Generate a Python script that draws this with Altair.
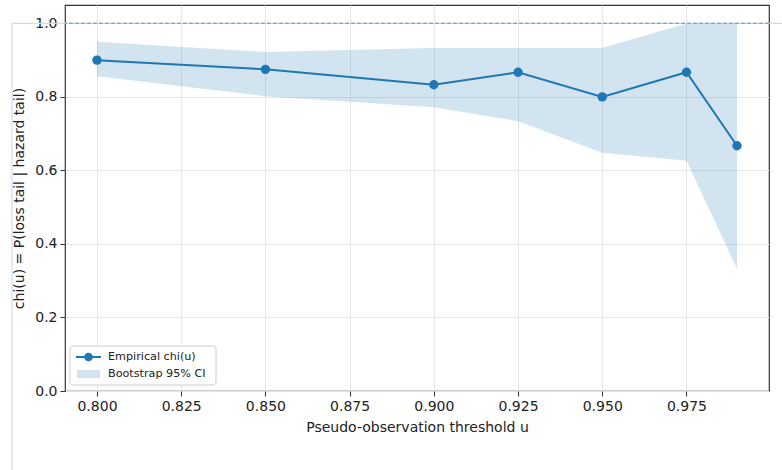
import altair as alt
import pandas as pd

# data
u = [0.80, 0.85, 0.90, 0.925, 0.95, 0.975, 0.99]
chi = [0.900, 0.875, 0.833, 0.867, 0.800, 0.867, 0.667]
ci_lo = [0.856, 0.802, 0.772, 0.734, 0.648, 0.626, 0.333]
ci_hi = [0.950, 0.922, 0.933, 0.933, 0.933, 1.000, 1.000]
x_ticks = [0.800, 0.825, 0.850, 0.875, 0.900, 0.925, 0.950, 0.975]
y_ticks = [0.0, 0.2, 0.4, 0.6, 0.8, 1.0]
legend_labels = ["Empirical chi(u)", "Bootstrap 95% CI"]
ref_level = [1.0]

BLUE = "#1f77b4"
FONT = "DejaVu Sans"

df = pd.DataFrame({"u": u, "chi": chi, "lo": ci_lo, "hi": ci_hi})
ref = pd.DataFrame({"y": ref_level})

W, H = 704, 386

xs = alt.Scale(domain=[0.7905, 0.9995], nice=False, zero=False)
ys = alt.Scale(domain=[0.0, 1.05], nice=False, zero=False)

xax = alt.Axis(values=x_ticks, format=".3f", title="Pseudo-observation threshold u",
               grid=True)
yax = alt.Axis(values=y_ticks, format=".1f", title="chi(u) = P(loss tail | hazard tail)",
               grid=True)

base = alt.Chart(df)

band = base.mark_area(color=BLUE, opacity=0.2).encode(
    x=alt.X("u:Q", scale=xs, axis=xax),
    y=alt.Y("lo:Q", scale=ys, axis=yax),
    y2="hi:Q",
)

line = base.mark_line(color=BLUE, strokeWidth=2).encode(
    x=alt.X("u:Q", scale=xs), y=alt.Y("chi:Q", scale=ys)
)
pts = base.mark_circle(color=BLUE, opacity=1, size=88).encode(
    x=alt.X("u:Q", scale=xs), y=alt.Y("chi:Q", scale=ys)
)

# light outline seen around the figure
art_h = alt.Chart(ref).mark_rule(color="#cddcf0", strokeWidth=1.2).encode(
    y=alt.Y("y:Q", scale=ys), x=alt.value(-53), x2=alt.value(W + 20)
)
art_v = alt.Chart(ref).mark_rule(color="#cddcf0", strokeWidth=1.2).encode(
    y=alt.Y("y:Q", scale=ys), y2=alt.value(H + 90), x=alt.value(-53)
)

dash = alt.Chart(ref).mark_rule(color="#6fa6d6", strokeWidth=1.3, strokeDash=[4, 2]).encode(
    y=alt.Y("y:Q", scale=ys)
)

# legend (manual)
leg_df = pd.DataFrame({"label": legend_labels})
lx0, ly0 = 5, H - 45
leg_box = alt.Chart(leg_df.head(1)).mark_rect(
    fill="white", fillOpacity=0.85, stroke="#cccccc", strokeWidth=1, cornerRadius=3
).encode(x=alt.value(lx0), x2=alt.value(lx0 + 146), y=alt.value(ly0), y2=alt.value(ly0 + 39))
leg_line = alt.Chart(leg_df.head(1)).mark_rule(color=BLUE, strokeWidth=2).encode(
    x=alt.value(lx0 + 6), x2=alt.value(lx0 + 31), y=alt.value(ly0 + 11)
)
leg_pt = alt.Chart(leg_df.head(1)).mark_circle(color=BLUE, opacity=1, size=75).encode(
    x=alt.value(lx0 + 18.5), y=alt.value(ly0 + 11)
)
leg_patch = alt.Chart(leg_df.head(1)).mark_rect(color=BLUE, opacity=0.2).encode(
    x=alt.value(lx0 + 7), x2=alt.value(lx0 + 30), y=alt.value(ly0 + 24), y2=alt.value(ly0 + 32)
)
leg_t1 = alt.Chart(leg_df.head(1)).mark_text(
    align="left", baseline="middle", font=FONT, fontSize=11.2, color="#222"
).encode(x=alt.value(lx0 + 38), y=alt.value(ly0 + 11), text="label:N")
leg_t2 = alt.Chart(leg_df.tail(1)).mark_text(
    align="left", baseline="middle", font=FONT, fontSize=11.2, color="#222"
).encode(x=alt.value(lx0 + 38), y=alt.value(ly0 + 28), text="label:N")

chart = alt.layer(
    band, art_h, art_v, dash, line, pts, leg_box, leg_line, leg_pt, leg_patch, leg_t1, leg_t2
).properties(
    width=W, height=H,
    autosize=alt.AutoSizeParams(type="none"),
    padding={"left": 65, "top": 5, "right": 13, "bottom": 79},
).configure_view(
    stroke="#333333", strokeWidth=1.2
).configure_axis(
    domain=False,
    gridColor="#e6e6e6", gridWidth=1,
    tickColor="#333333", tickSize=5, tickWidth=1,
    labelFont=FONT, labelFontSize=14, labelColor="#222",
    titleFont=FONT, titleFontSize=14, titleColor="#222", titleFontWeight="normal",
    labelPadding=3,
).configure_axisX(titlePadding=7).configure_axisY(titlePadding=8)

chart.save("out.html", embed_options={"renderer": "svg", "actions": False})
